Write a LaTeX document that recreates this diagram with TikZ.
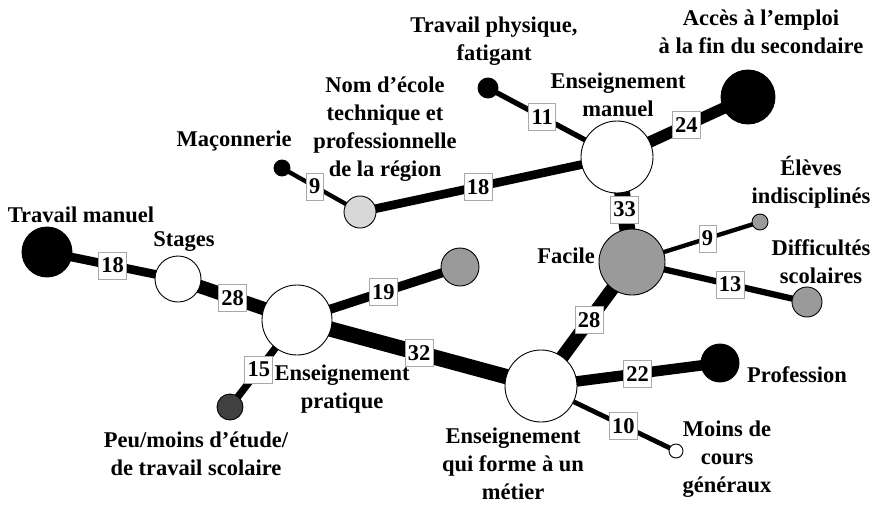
\documentclass[tikz,border=0pt]{standalone}
\usepackage{fontspec}
\setmainfont{Liberation Serif}
\usetikzlibrary{backgrounds}
\definecolor{midgray}{HTML}{9A9A9A}
\definecolor{lightgray2}{HTML}{D8D8D8}
\definecolor{darkgray2}{HTML}{404040}
\definecolor{boxgray}{HTML}{A8A8A8}
\newcommand\txtfont{\bfseries\fontsize{22.5}{28}\selectfont}
\newcommand\numfont{\bfseries\fontsize{22.5}{27}\selectfont}
\begin{document}
\begin{tikzpicture}[x=1pt,y=-1pt,
  vtx/.style={circle,draw=black,line width=0.9pt,inner sep=0pt,minimum size=#1},
  wnode/.style={vtx=#1,fill=white},
  bnode/.style={vtx=#1,fill=black},
  gnode/.style={vtx=#1,fill=midgray},
  lgnode/.style={vtx=#1,fill=lightgray2},
  dgnode/.style={vtx=#1,fill=darkgray2},
  num/.style={draw=boxgray,fill=white,line width=0.8pt,inner xsep=2.75pt,inner ysep=0pt,minimum height=27pt,font=\numfont},
  txt/.style={align=center,font=\txtfont,inner sep=0pt},
  conn/.style={line width=#1*0.48pt}
]
\useasboundingbox (0,0) rectangle (872,506);
% nodes
\node[bnode=50pt]  (TM) at (47,252) {};
\node[wnode=46pt]  (ST) at (178,279) {};
\node[wnode=70pt]  (EP) at (297,320) {};
\node[gnode=38pt]  (HX) at (460,267) {};
\node[dgnode=26pt] (PM) at (230,407) {};
\node[wnode=72pt]  (EM) at (541,386) {};
\node[bnode=38pt]  (PR) at (720,363) {};
\node[wnode=14pt]  (MC) at (676,451) {};
\node[gnode=66pt]  (FA) at (632,262) {};
\node[gnode=16pt]  (EI) at (760,222) {};
\node[gnode=30pt]  (DS) at (807,302) {};
\node[wnode=72pt]  (MA) at (617,157) {};
\node[bnode=54pt]  (AC) at (748,97) {};
\node[bnode=20pt]  (TP) at (488,88) {};
\node[lgnode=32pt] (NE) at (360,212) {};
\node[bnode=16pt]  (MN) at (282,168) {};
% connectors
\begin{scope}[on background layer]
\draw[conn=18] (TM.center) -- (ST.center) node[num,pos=0.5]{18};
\draw[conn=28] (ST.center) -- (EP.center) node[num,pos=0.46]{28};
\draw[conn=19] (EP.center) -- (HX.center) node[num,pos=0.53]{19};
\draw[conn=15] (EP.center) -- (PM.center) node[num,pos=0.57]{15};
\draw[conn=32] (EP.center) -- (EM.center) node[num,pos=0.5]{32};
\draw[conn=28] (EM.center) -- (FA.center) node[num,pos=0.53]{28};
\draw[conn=22] (EM.center) -- (PR.center) node[num,pos=0.54]{22};
\draw[conn=10] (EM.center) -- (MC.center) node[num,pos=0.61]{10};
\draw[conn=33] (FA.center) -- (MA.center) node[num,pos=0.5]{33};
\draw[conn=9]  (FA.center) -- (EI.center) node[num,pos=0.59]{9};
\draw[conn=13] (FA.center) -- (DS.center) node[num,pos=0.56]{13};
\draw[conn=24] (MA.center) -- (AC.center) node[num,pos=0.53]{24};
\draw[conn=11] (MA.center) -- (TP.center) node[num,pos=0.58]{11};
\draw[conn=18] (MA.center) -- (NE.center) node[num,pos=0.54]{18};
\draw[conn=9]  (NE.center) -- (MN.center) node[num,pos=0.58]{9};
\end{scope}
% texts
\node[txt] (tTM) at (81,215) {Travail manuel};
\node[txt] (tST) at (184,241.5) {Stages};
\node[txt] (tMN) at (234,141) {Maçonnerie};
\node[txt] (tNE) at (385,129.5) {Nom d’école\\technique et\\professionnelle\\de la région};
\node[txt] (tTP) at (494,41) {Travail physique,\\fatigant};
\node[txt] (tMA) at (618,94.5) {Enseignement\\manuel};
\node[txt] (tAC) at (761,31.5) {Accès à l’emploi\\à la fin du secondaire};
\node[txt] (tEI) at (811,182) {Élèves\\indisciplinés};
\node[txt] (tDS) at (821,261.5) {Difficultés\\scolaires};
\node[txt] (tFA) at (566,255.5) {Facile};
\node[txt] (tPR) at (797,375) {Profession};
\node[txt] (tMC) at (727,459.5) {Moins de\\cours\\généraux};
\node[txt] (tEM) at (513,464) {Enseignement\\qui forme à un\\métier};
\node[txt] (tEP) at (342,389) {Enseignement\\pratique};
\node[txt] (tPM) at (196,453.5) {Peu/moins d’étude/\\de travail scolaire};
\end{tikzpicture}
\end{document}
